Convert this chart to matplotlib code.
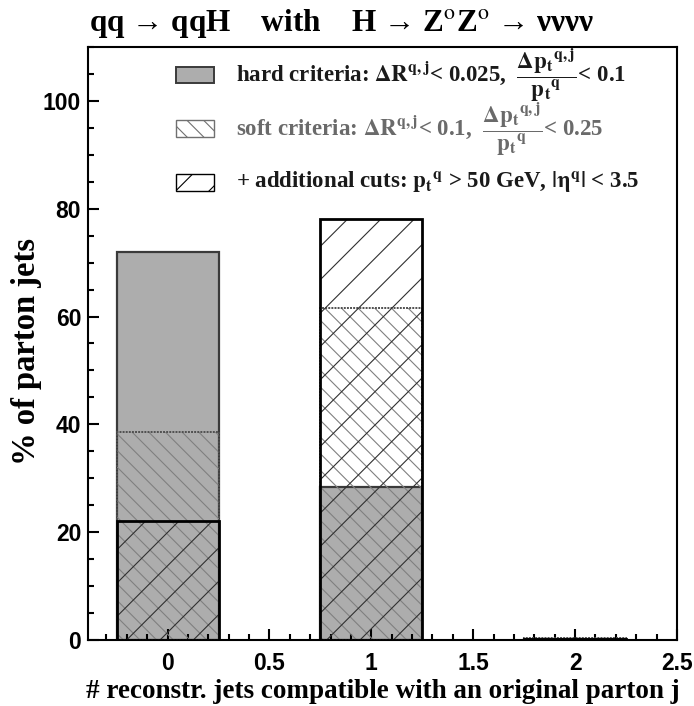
import matplotlib
matplotlib.use("Agg")
import matplotlib.pyplot as plt
from matplotlib.patches import Rectangle
from matplotlib.ticker import MultipleLocator, FuncFormatter

# fraction of parton jets per number of compatible reconstructed jets
n_jets = [0, 1, 2]
hard_pct = [72.0, 28.3, 0.2]
soft_pct = [38.5, 61.5, 0.3]
cuts_pct = [22.0, 78.0, 0.2]

hard_label = (r"hard criteria: $\Delta R^{q,j}$< 0.025,  "
              r"$\dfrac{\Delta p_t{}^{q,j}}{p_t{}^q}$< 0.1")
soft_label = (r"soft criteria: $\Delta R^{q,j}$< 0.1,  "
              r"$\dfrac{\Delta p_t{}^{q,j}}{p_t{}^q}$< 0.25")
cuts_label = r"+ additional cuts: $p_t{}^q$ > 50 GeV, $|\eta^q|$ < 3.5"

plt.rcParams["mathtext.fontset"] = "stix"
plt.rcParams["mathtext.default"] = "bf"
plt.rcParams["hatch.linewidth"] = 0.8

serif = "Liberation Serif"
sans = "Liberation Sans"

fig = plt.figure(figsize=(6.94, 7.06), dpi=100)
ax = fig.add_axes([0.127, 0.0935, 0.8485, 0.84])

w = 0.5
gray = "#adadad"

# hard criteria: grey fill
ax.bar(n_jets, hard_pct, width=w, color=gray, edgecolor="#3a3a3a", linewidth=1.6, zorder=1)
# soft criteria: light backslash hatch
ax.bar(n_jets, soft_pct, width=w, fill=False, hatch="\\\\", edgecolor="#808080",
       linewidth=0, zorder=2)
ax.bar(n_jets, soft_pct, width=w, fill=False, edgecolor="#505050", linewidth=1.4,
       linestyle=(0, (1, 0.6)), zorder=3)
# additional cuts: wide slash hatch, black outline
ax.bar(n_jets, cuts_pct, width=w, fill=False, hatch="/", edgecolor="#303030",
       linewidth=0, zorder=4)
ax.bar(n_jets, cuts_pct, width=w, fill=False, edgecolor="black", linewidth=2.0, zorder=5)

ax.set_xlim(-0.39, 2.5)
ax.set_ylim(0, 110)
ax.xaxis.set_major_locator(MultipleLocator(0.5))
ax.xaxis.set_minor_locator(MultipleLocator(0.1))
ax.yaxis.set_major_locator(MultipleLocator(20))
ax.yaxis.set_minor_locator(MultipleLocator(5))
ax.tick_params(which="both", direction="in", top=False, right=False, width=1.5)
ax.tick_params(which="major", length=8, labelsize=16.5, pad=5)
ax.tick_params(axis="x", which="major", pad=9)
ax.tick_params(which="minor", length=4.5)
ax.xaxis.set_major_formatter(FuncFormatter(lambda v, p: f"{v:g}"))
for lab in ax.get_xticklabels() + ax.get_yticklabels():
    lab.set_fontfamily(sans)
    lab.set_fontweight("bold")
for s in ax.spines.values():
    s.set_linewidth(1.5)

ax.set_xlabel("# reconstr. jets compatible with an original parton j",
              fontfamily=serif, fontweight="bold", fontsize=19.5)
ax.xaxis.set_label_coords(0.5, -0.065)
ax.set_ylabel("% of parton jets", fontfamily=serif, fontweight="bold", fontsize=23.5)
ax.yaxis.set_label_coords(-0.078, 0.486)
fig.text(0.493, 0.967, "qq → qqH    with    H → Z$^{\\rm o}$Z$^{\\rm o}$ → νννν",
         ha="center", va="center", fontfamily=serif, fontweight="bold", fontsize=22.5)

# legend drawn by hand
bx, bw, bh = 0.149, 0.065, 0.028
tx = 0.251
rows = [0.953, 0.862, 0.771]

ax.add_patch(Rectangle((bx, rows[0] - bh / 2), bw, bh, transform=ax.transAxes,
                       facecolor=gray, edgecolor="#3a3a3a", linewidth=1.4, clip_on=False))
ax.add_patch(Rectangle((bx, rows[1] - bh / 2), bw, bh, transform=ax.transAxes,
                       fill=False, hatch="\\\\", edgecolor="#707070", linewidth=1.0,
                       clip_on=False))
ax.add_patch(Rectangle((bx, rows[2] - bh / 2), bw, bh, transform=ax.transAxes,
                       fill=False, hatch="/", edgecolor="black", linewidth=1.0,
                       clip_on=False))

ax.text(tx, rows[0], hard_label, transform=ax.transAxes, va="center", ha="left",
        fontfamily=serif, fontweight="bold", fontsize=16.5, color="#1a1a1a")
ax.text(tx, rows[1], soft_label, transform=ax.transAxes, va="center", ha="left",
        fontfamily=serif, fontweight="bold", fontsize=16.5, color="#6a6a6a")
ax.text(tx, rows[2], cuts_label, transform=ax.transAxes, va="center", ha="left",
        fontfamily=serif, fontweight="bold", fontsize=16.5, color="#1a1a1a")

fig.savefig("out.png", dpi=100)
